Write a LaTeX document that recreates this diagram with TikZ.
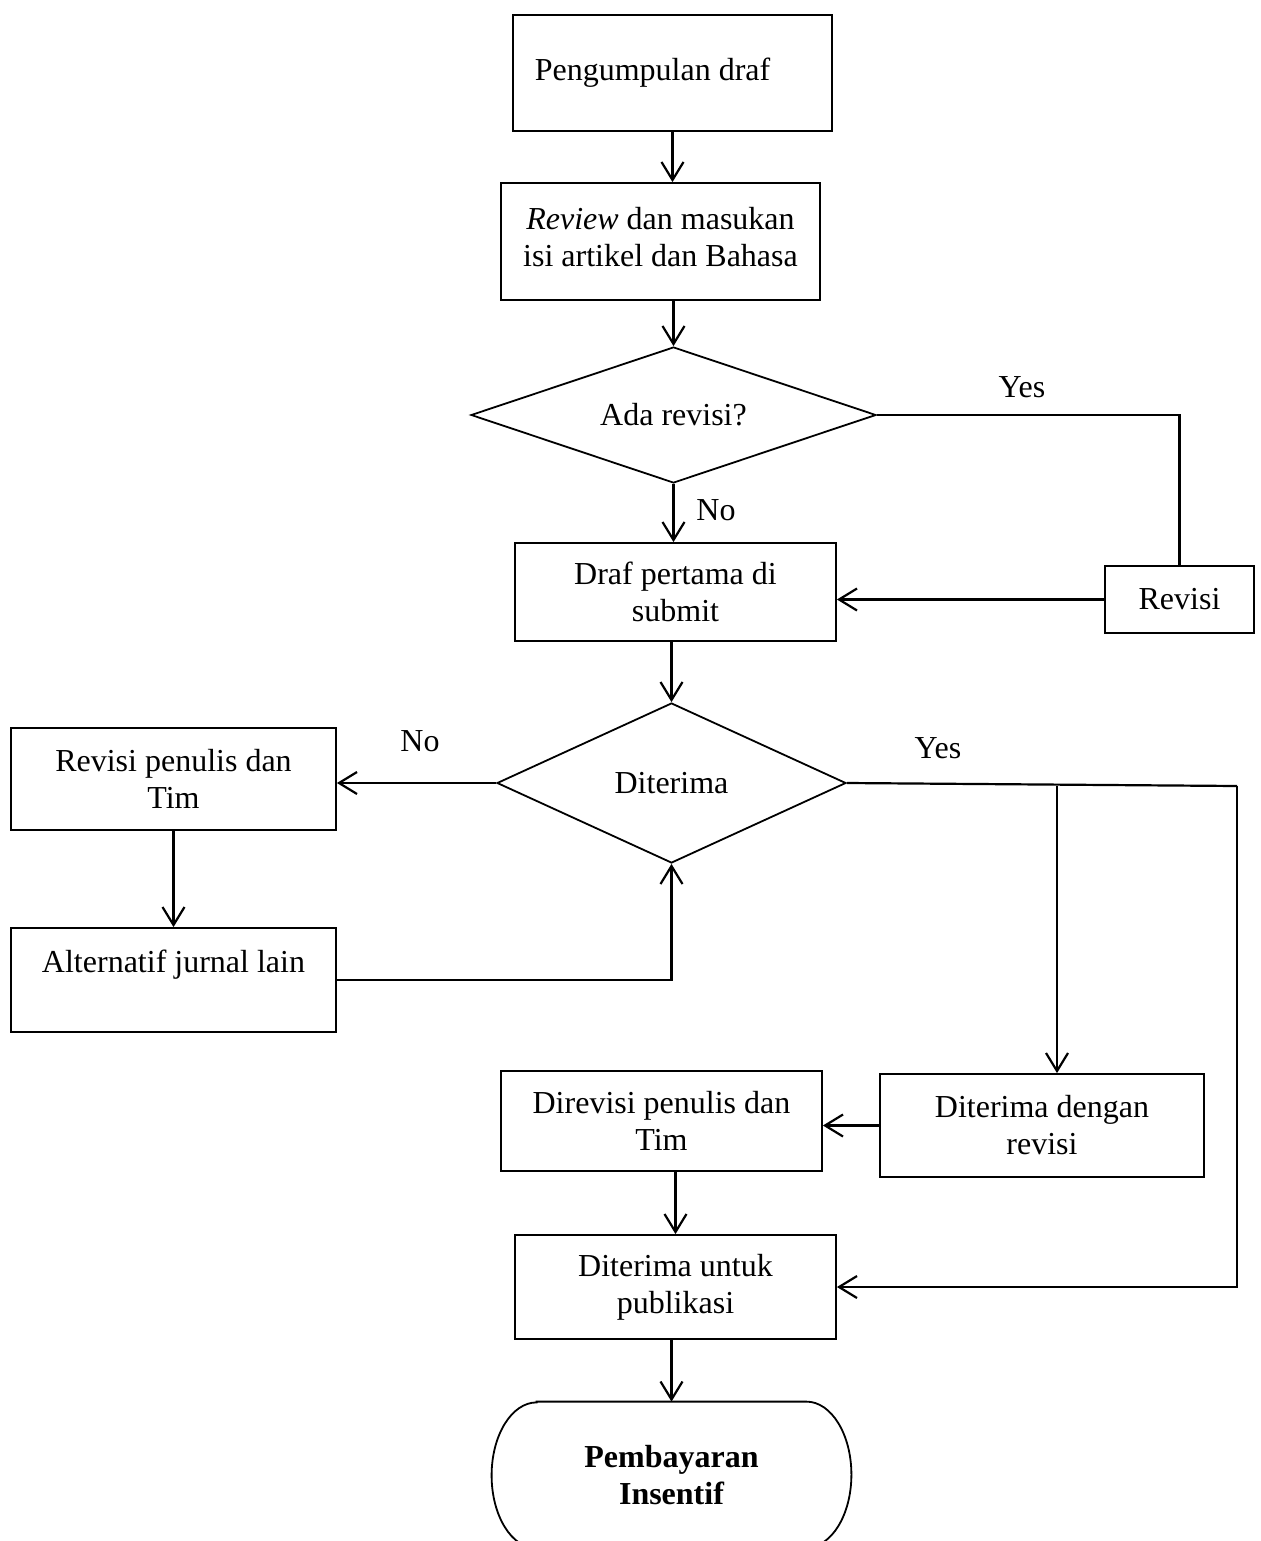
\documentclass[tikz,border=0pt]{standalone}
\usepackage{fontspec}
\setmainfont{Liberation Serif}
\usetikzlibrary{shapes.geometric,arrows.meta,calc}
\begin{document}
\begin{tikzpicture}[x=0.5pt,y=-0.5pt,
  every node/.style={font=\fontsize{16}{18.5}\selectfont},
  box/.style={draw,line width=0.9pt,rectangle,align=center,inner sep=0pt},
  dia/.style={draw,line width=0.9pt,diamond,inner sep=0pt},
  lbl/.style={inner sep=0pt},
  conn/.style={line width=1.1pt},
  arr/.style={conn,-{Straight Barb[length=9pt,width=11pt,line width=1.1pt]}}
]
\useasboundingbox (0,0) rectangle (1260,1541);
\clip (0,0) rectangle (1260,1541);

\node[box,minimum width=159.5pt,minimum height=58pt] (b1) at (672.5,73) {Pengumpulan draf\hspace*{20pt}};
\node[box,minimum width=159.5pt,minimum height=58.5pt] (b2) at (660.5,241.5) {\raisebox{4.5pt}{\textit{Review} dan masukan}\\\raisebox{4.5pt}{isi artikel dan Bahasa}};
\node[dia,shape aspect=3,minimum width=202.5pt,minimum height=68pt] (d1) at (673.5,415) {Ada revisi?};
\node[box,minimum width=160.5pt,minimum height=49pt] (b3) at (675.5,592) {Draf pertama di\\submit};
\node[box,minimum width=74.5pt,minimum height=33.5pt] (r) at (1179.5,599.5) {Revisi};
\node[dia,shape aspect=2.2,minimum width=174.5pt,minimum height=80pt] (d2) at (671.5,783) {Diterima};
\node[box,minimum width=162.5pt,minimum height=51pt] (b4) at (173.5,779) {Revisi penulis dan\\Tim};
\node[box,minimum width=162.5pt,minimum height=52pt] (b5) at (173.5,980) {Alternatif jurnal lain\\\mbox{}};
\node[box,minimum width=162pt,minimum height=51.5pt] (b6) at (1042,1125.5) {Diterima dengan\\revisi};
\node[box,minimum width=160.5pt,minimum height=50pt] (b7) at (661.5,1121) {Direvisi penulis dan\\Tim};
\node[box,minimum width=160.5pt,minimum height=52pt] (b8) at (675.5,1287) {Diterima untuk\\publikasi};
\node[align=center,inner sep=0pt,minimum width=179.5pt,minimum height=73pt,font=\fontsize{16}{18.5}\selectfont\bfseries] (term) at (671.5,1475) {Pembayaran\\Insentif};
\draw[line width=0.9pt] ($(term.north west)+(45,0)$) -- ($(term.north east)+(-45,0)$)
  arc[start angle=90,end angle=-90,x radius=22.5pt,y radius=36.5pt]
  -- ($(term.south west)+(45,0)$)
  arc[start angle=270,end angle=90,x radius=22.5pt,y radius=36.5pt] -- cycle;

\node[lbl] (yes1) at (1022,387) {Yes};
\node[lbl] (no1) at (716,510) {No};
\node[lbl] (no2) at (420,741) {No};
\node[lbl] (yes2) at (938,748) {Yes};

\coordinate (c1) at (1237,786);
\coordinate (c2) at (1057,786);

\draw[arr] (b1.south) -- (b1.south |- b2.north);
\draw[arr] (d1.north |- b2.south) -- (d1.north);
\draw[conn] (d1.east) -- (r.north |- d1.east) -- (r.north);
\draw[arr] (d1.south) -- (d1.south |- b3.north);
\draw[arr] (r.west) -- (r.west -| b3.east);
\draw[arr] (d2.north |- b3.south) -- (d2.north);
\draw[arr] (d2.west) -- (d2.west -| b4.east);
\draw[conn] (d2.east) -- (c1);
\draw[arr] (c1) -- (c1 |- b8.east) -- (b8.east);
\draw[arr] (c2) -- (c2 |- b6.north);
\draw[arr] (b4.south) -- (b5.north);
\draw[arr] (b5.east) -- (d2.south |- b5.east) -- (d2.south);
\draw[arr] (b6.west) -- (b6.west -| b7.east);
\draw[arr] (b8.north |- b7.south) -- (b8.north);
\draw[arr] (term.north |- b8.south) -- (term.north);
\end{tikzpicture}
\end{document}
